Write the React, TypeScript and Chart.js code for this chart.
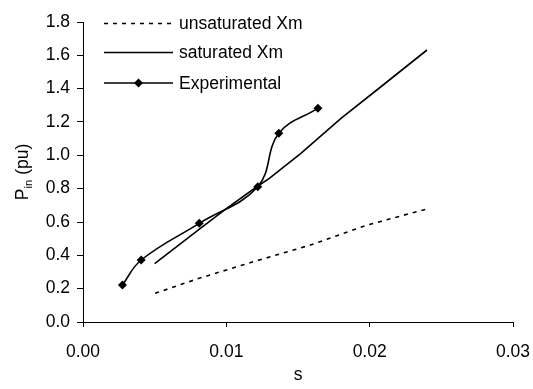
import React, { useEffect, useRef } from "react";
import { Chart, registerables } from "chart.js";

Chart.register(...registerables);

const unsatX = [0.00503, 0.00795, 0.0119, 0.01587, 0.01984, 0.0239];
const unsatY = [0.172, 0.258, 0.362, 0.462, 0.582, 0.676];

const satX = [0.005, 0.0081, 0.01, 0.0121, 0.013, 0.0152, 0.018, 0.0205, 0.024];
const satY = [0.35, 0.556, 0.68, 0.81, 0.862, 1.012, 1.222, 1.392, 1.632];

const expX = [0.00275, 0.00406, 0.00811, 0.01219, 0.01366, 0.01639];
const expY = [0.222, 0.372, 0.592, 0.812, 1.132, 1.282];

const xTickLabels = ["0.00", "0.01", "0.02", "0.03"];
const yTickLabels = ["0.0", "0.2", "0.4", "0.6", "0.8", "1.0", "1.2", "1.4", "1.6", "1.8"];

const seriesNames = ["unsaturated Xm", "saturated Xm", "Experimental"];

const FONT = '"Liberation Sans", Arial, sans-serif';
const FS = 17.5;

const toPts = (xs: number[], ys: number[]) => xs.map((x, i) => ({ x, y: ys[i] }));

const overlayPlugin = {
  id: "overlay",
  afterDraw(chart: any) {
    const ctx = chart.ctx as CanvasRenderingContext2D;
    const area = chart.chartArea;
    ctx.save();
    ctx.fillStyle = "#000";
    ctx.strokeStyle = "#000";
    // legend
    const lx0 = area.left + 21;
    const lx1 = area.left + 90;
    const tx = area.left + 96;
    const rows = [area.top + 1.5, area.top + 30.5, area.top + 61];
    rows.forEach((y, i) => {
      ctx.lineWidth = 1.6;
      ctx.setLineDash(i === 0 ? [4, 5] : []);
      ctx.beginPath();
      ctx.moveTo(lx0, y);
      ctx.lineTo(lx1, y);
      ctx.stroke();
      ctx.setLineDash([]);
      if (i === 2) {
        const cx = (lx0 + lx1) / 2;
        ctx.beginPath();
        ctx.moveTo(cx, y - 4.5);
        ctx.lineTo(cx + 4.5, y);
        ctx.lineTo(cx, y + 4.5);
        ctx.lineTo(cx - 4.5, y);
        ctx.closePath();
        ctx.fill();
      }
      ctx.font = `${FS}px ${FONT}`;
      ctx.textAlign = "left";
      ctx.textBaseline = "middle";
      ctx.fillText(seriesNames[i], tx, y + 1);
    });
    // x title
    ctx.font = `${FS}px ${FONT}`;
    ctx.textAlign = "center";
    ctx.textBaseline = "middle";
    ctx.fillText("s", (area.left + area.right) / 2, 375);
    // y title with subscript
    ctx.translate(22, (area.top + area.bottom) / 2);
    ctx.rotate(-Math.PI / 2);
    const subFS = FS * 0.65;
    ctx.font = `${FS}px ${FONT}`;
    const wP = ctx.measureText("P").width;
    const wRest = ctx.measureText(" (pu)").width;
    ctx.font = `${subFS}px ${FONT}`;
    const wSub = ctx.measureText("in").width;
    const total = wP + wSub + wRest;
    let x = -total / 2;
    ctx.textAlign = "left";
    ctx.textBaseline = "alphabetic";
    ctx.font = `${FS}px ${FONT}`;
    ctx.fillText("P", x, 6);
    x += wP;
    ctx.font = `${subFS}px ${FONT}`;
    ctx.fillText("in", x, 10);
    x += wSub;
    ctx.font = `${FS}px ${FONT}`;
    ctx.fillText(" (pu)", x, 6);
    ctx.restore();
  },
};

export default function App() {
  const ref = useRef<HTMLCanvasElement | null>(null);
  useEffect(() => {
    if (!ref.current) return;
    const chart = new Chart(ref.current, {
      type: "line",
      data: {
        datasets: [
          {
            label: seriesNames[0],
            data: toPts(unsatX, unsatY),
            borderColor: "#000",
            borderWidth: 1.6,
            borderDash: [4, 5],
            pointRadius: 0,
            tension: 0,
            fill: false,
          },
          {
            label: seriesNames[1],
            data: toPts(satX, satY),
            borderColor: "#000",
            borderWidth: 1.6,
            pointRadius: 0,
            tension: 0,
            fill: false,
          },
          {
            label: seriesNames[2],
            data: toPts(expX, expY),
            borderColor: "#000",
            backgroundColor: "#000",
            borderWidth: 1.6,
            pointStyle: "rectRot",
            pointRadius: 4.5,
            pointBackgroundColor: "#000",
            pointBorderWidth: 0,
            tension: 0.4,
            fill: false,
          },
        ],
      },
      options: {
        animation: false,
        responsive: false,
        devicePixelRatio: 1,
        layout: { padding: { top: 22, right: 20, left: 0, bottom: 0 } },
        plugins: { legend: { display: false }, tooltip: { enabled: false } },
        scales: {
          x: {
            type: "linear",
            min: 0,
            max: 0.03,
            afterFit: (s: any) => {
              s.height = 67;
              s.paddingLeft = 0;
              s.paddingRight = 0;
            },
            afterBuildTicks: (s: any) => {
              s.ticks = xTickLabels.map((_, i) => ({ value: i * 0.01 }));
            },
            ticks: {
              color: "#000",
              font: { family: FONT, size: FS },
              padding: 15,
              maxRotation: 0,
              callback: (_v: any, i: number) => xTickLabels[i],
            },
            grid: {
              drawOnChartArea: false,
              drawTicks: true,
              tickLength: 5,
              color: "#000",
              tickColor: "#000",
            },
            border: { display: true, color: "#000", width: 1 },
          },
          y: {
            type: "linear",
            min: 0,
            max: 1.8,
            afterFit: (s: any) => {
              s.width = 83;
              s.paddingTop = 0;
              s.paddingBottom = 0;
            },
            afterBuildTicks: (s: any) => {
              s.ticks = yTickLabels.map((_, i) => ({ value: i * 0.2 }));
            },
            ticks: {
              color: "#000",
              font: { family: FONT, size: FS },
              padding: 7,
              callback: (_v: any, i: number) => yTickLabels[i],
            },
            grid: {
              drawOnChartArea: false,
              drawTicks: true,
              tickLength: 6,
              color: "#000",
              tickColor: "#000",
            },
            border: { display: true, color: "#000", width: 1 },
          },
        },
      },
      plugins: [overlayPlugin],
    } as any);
    return () => chart.destroy();
  }, []);
  return (
    <div style={{ position: "fixed", left: 0, top: 0, width: 533, height: 389, background: "#fff" }}>
      <canvas ref={ref} width={533} height={389} style={{ width: 533, height: 389 }} />
    </div>
  );
}
